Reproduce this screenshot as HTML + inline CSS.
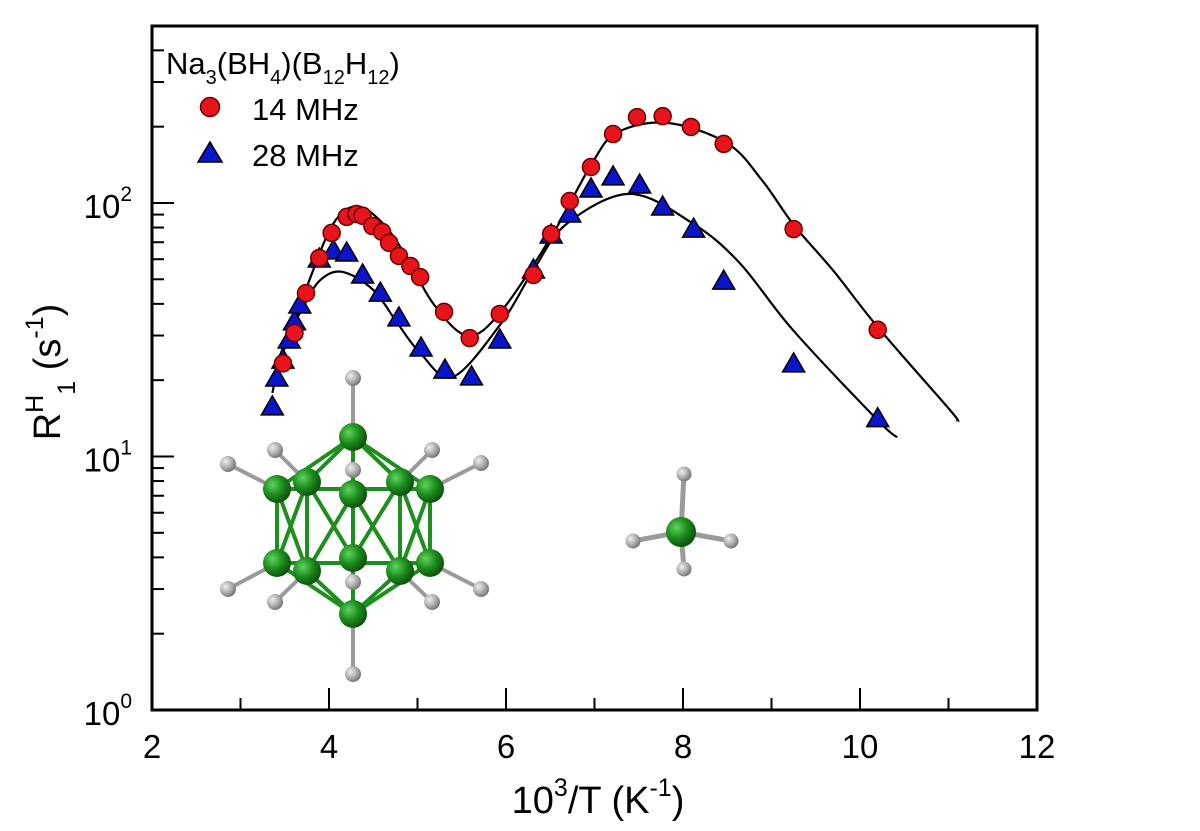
<!DOCTYPE html>
<html><head><meta charset="utf-8"><style>
body{margin:0;background:#fff}
svg{display:block;font-family:"Liberation Sans",Arial,sans-serif}
</style></head><body>
<svg id="chart" width="1200" height="831" viewBox="0 0 1200 831">
<defs>
<radialGradient id="gB" cx="35%" cy="35%" r="70%"><stop offset="0" stop-color="#5fd35f"/><stop offset="0.5" stop-color="#1e8f1e"/><stop offset="1" stop-color="#0b4d0b"/></radialGradient>
<radialGradient id="gH" cx="35%" cy="35%" r="70%"><stop offset="0" stop-color="#eeeeee"/><stop offset="0.6" stop-color="#a8a8a8"/><stop offset="1" stop-color="#707070"/></radialGradient>
</defs>
<g id="molecules"></g>
<g id="axes"></g>
<g id="fits"></g>
<g id="marks"></g>
<g id="legend">
<text x="166" y="74" font-size="31">Na<tspan font-size="20" dy="10">3</tspan><tspan dy="-10">(BH</tspan><tspan font-size="20" dy="10">4</tspan><tspan dy="-10">)(B</tspan><tspan font-size="20" dy="10">12</tspan><tspan dy="-10">H</tspan><tspan font-size="20" dy="10">12</tspan><tspan dy="-10">)</tspan></text>
<circle cx="210" cy="107" r="9.5" fill="#e8141b" stroke="#6b0000" stroke-width="1.5"/>
<text x="252" y="120" font-size="31">14 MHz</text>
<polygon points="210,142 222,162 198,162" fill="#0a14c8" stroke="#000" stroke-width="1.5"/>
<text x="252" y="166" font-size="31">28 MHz</text>
</g>
</svg>
<script>
const NS="http://www.w3.org/2000/svg";
// ---- data ----
const x14=[3.48,3.61,3.74,3.89,4.03,4.2,4.31,4.38,4.49,4.6,4.68,4.79,4.92,5.03,5.3,5.59,5.93,6.31,6.51,6.72,6.96,7.21,7.48,7.77,8.09,8.46,9.25,10.2];
const y14=[23.3,30.7,44.1,60.7,76.2,88.1,90.5,89,81.1,76.9,69.6,61.8,56.4,51,37.2,29.3,36.5,52,75.5,101.8,138.7,187,218,220,199.5,171,78.9,31.6];
const x28=[3.36,3.41,3.48,3.55,3.61,3.67,3.89,4.05,4.2,4.38,4.58,4.79,5.04,5.31,5.61,5.93,6.31,6.51,6.72,6.96,7.21,7.51,7.77,8.12,8.46,9.25,10.2];
const y28=[15.7,20.4,24,28.8,34,39.6,60.1,64.7,63.5,52,44.1,35.2,26.8,21.9,20.6,28.8,54.4,74.8,90.5,113.6,126.7,117.8,96.4,78.9,49.2,23.2,14.1];
const fitX14=[3.37,3.75,4.05,4.32,4.61,4.88,5.18,5.56,5.93,6.51,6.96,7.25,7.82,8.5,8.9,9.25,9.7,10.2,11.02,11.1];
const fitY14=[20,46.7,83,97,83,61,40,30,36.8,73.5,141,189,207,172,122,82,54,32.4,15.2,13.8];
const fitX28=[3.36,3.48,3.71,3.9,4.15,4.5,4.77,5.03,5.4,5.95,6.31,6.69,7.4,8.11,8.64,9.24,10.2,10.42];
const fitY28=[17.8,27,38.9,49.6,53.5,45.4,33.7,25.6,20.6,33.7,54.4,83,108.6,83,58,31.6,13.9,11.9];
const xTicks=[2,4,6,8,10,12];
const yDecades=[0,1,2];
// ---- scales ----
const L=152,R=1037,T=26,B=710,X0=2,X1=12,LMIN=0,LMAX=Math.log10(499);
const sx=v=>L+(v-X0)/(X1-X0)*(R-L);
const sy=v=>B-(Math.log10(v)-LMIN)/(LMAX-LMIN)*(B-T);
const ax=document.getElementById('axes');
function mk(tag,at,parent){const e=document.createElementNS(NS,tag);for(const k in at)e.setAttribute(k,at[k]);parent.appendChild(e);return e;}
const fr=mk('rect',{x:L,y:T,width:R-L,height:B-T,fill:'none',stroke:'#000','stroke-width':3},ax);


for(let v=3;v<12;v+=2){const t=mk('line',{x1:sx(v),x2:sx(v),y1:B,y2:B-12,stroke:'#000','stroke-width':2},ax);

}
xTicks.forEach(v=>{const t=mk('line',{x1:sx(v),x2:sx(v),y1:B,y2:B-22,stroke:'#000','stroke-width':2},ax);


const l=mk('text',{x:sx(v),y:B+48,'font-size':33,'text-anchor':'middle'},ax);l.textContent=v;

});
yDecades.forEach(d=>{const y=sy(Math.pow(10,d));const t=mk('line',{x1:L,x2:L+22,y1:y,y2:y,stroke:'#000','stroke-width':2},ax);


const l=mk('text',{x:L-20,y:y+15,'font-size':33,'text-anchor':'end'},ax);
l.innerHTML='10<tspan font-size="21" dy="-17">'+d+'</tspan>';


for(let m=2;m<10;m++){const v=m*Math.pow(10,d);if(Math.log10(v)>LMAX)break;const yy=sy(v);
const mt=mk('line',{x1:L,x2:L+12,y1:yy,y2:yy,stroke:'#000','stroke-width':2},ax);

}});
const xt=mk('text',{x:598,y:813,'font-size':38,'text-anchor':'middle'},ax);
xt.innerHTML='10<tspan font-size="25" dy="-17">3</tspan><tspan dy="17">/T  (K</tspan><tspan font-size="25" dy="-17">-1</tspan><tspan dy="17">)</tspan>';


const yt=mk('text',{transform:'translate(60,372) rotate(-90)','font-size':38,'text-anchor':'middle'},ax);
yt.innerHTML='R<tspan font-size="25" dy="-17">H</tspan><tspan font-size="25" dy="32">1</tspan><tspan dy="-15">  (s</tspan><tspan font-size="25" dy="-17">-1</tspan><tspan dy="17">)</tspan>';


// ---- fits (Catmull-Rom in log space) ----
function curve(xs,ys){const p=xs.map((x,i)=>[sx(x),sy(ys[i])]);let d='M'+p[0][0]+','+p[0][1];
for(let i=0;i<p.length-1;i++){const p0=p[i-1]||p[i],p1=p[i],p2=p[i+1],p3=p[i+2]||p2;
d+=' C'+(p1[0]+(p2[0]-p0[0])/6)+','+(p1[1]+(p2[1]-p0[1])/6)+' '+(p2[0]-(p3[0]-p1[0])/6)+','+(p2[1]-(p3[1]-p1[1])/6)+' '+p2[0]+','+p2[1];}return d;}
const fg=document.getElementById('fits');
const f1=mk('path',{d:curve(fitX14,fitY14),fill:'none',stroke:'#000','stroke-width':2.2},fg);


const f2=mk('path',{d:curve(fitX28,fitY28),fill:'none',stroke:'#000','stroke-width':2.2},fg);


// ---- points ----
const mg=document.getElementById('marks');
x28.forEach((x,i)=>{const cx=sx(x),cy=sy(y28[i]);
const t=mk('polygon',{points:`${cx},${cy-11} ${cx+11},${cy+8} ${cx-11},${cy+8}`,fill:'#0a14c8',stroke:'#000','stroke-width':1.5},mg);

});
x14.forEach((x,i)=>{const c=mk('circle',{cx:sx(x),cy:sy(y14[i]),r:8.5,fill:'#e8141b',stroke:'#6b0000','stroke-width':1.5},mg);

});
// ---- molecules ----
const mo=document.getElementById('molecules');
const Bt=[353,437],Bb=[353,614];
const up=[[277,489],[307,482],[353,494],[400,482],[430,489]];
const lo=[[277,563],[307,571],[353,558],[400,571],[430,563]];
const Hs=[[353,378,Bt],[353,674,Bb],[228,464,up[0]],[275,450,up[1]],[353,470,up[2]],[432,450,up[3]],[481,463,up[4]],[228,589,lo[0]],[275,602,lo[1]],[353,582,lo[2]],[432,602,lo[3]],[481,589,lo[4]]];
function bond(a,b,c,w){mk('line',{x1:a[0],y1:a[1],x2:b[0],y2:b[1],stroke:c,'stroke-width':w},mo);}
Hs.forEach(h=>bond([h[0],h[1]],h[2],'#9a9a9a',4));
up.forEach(p=>{bond(Bt,p,'#1e8f1e',4);});lo.forEach(p=>bond(Bb,p,'#1e8f1e',4));
for(let i=0;i<5;i++){bond(up[i],lo[i],'#1e8f1e',4);if(i<4){bond(up[i],lo[i+1],'#1e8f1e',4);bond(lo[i],up[i+1],'#1e8f1e',4);}}
bond(up[0],up[4],'#1e8f1e',4);bond(lo[0],lo[4],'#1e8f1e',4);
Hs.forEach(h=>mk('circle',{cx:h[0],cy:h[1],r:8,fill:'url(#gH)'},mo));
[Bt,Bb,...up,...lo].forEach(p=>mk('circle',{cx:p[0],cy:p[1],r:14,fill:'url(#gB)'},mo));
const B4=[681,532];const H4=[[684,474],[633,541],[731,541],[684,569]];
H4.forEach(h=>{bond(B4,h,'#9a9a9a',5);mk('circle',{cx:h[0],cy:h[1],r:7.5,fill:'url(#gH)'},mo);});
mk('circle',{cx:B4[0],cy:B4[1],r:15,fill:'url(#gB)'},mo);
</script>
</body></html>
